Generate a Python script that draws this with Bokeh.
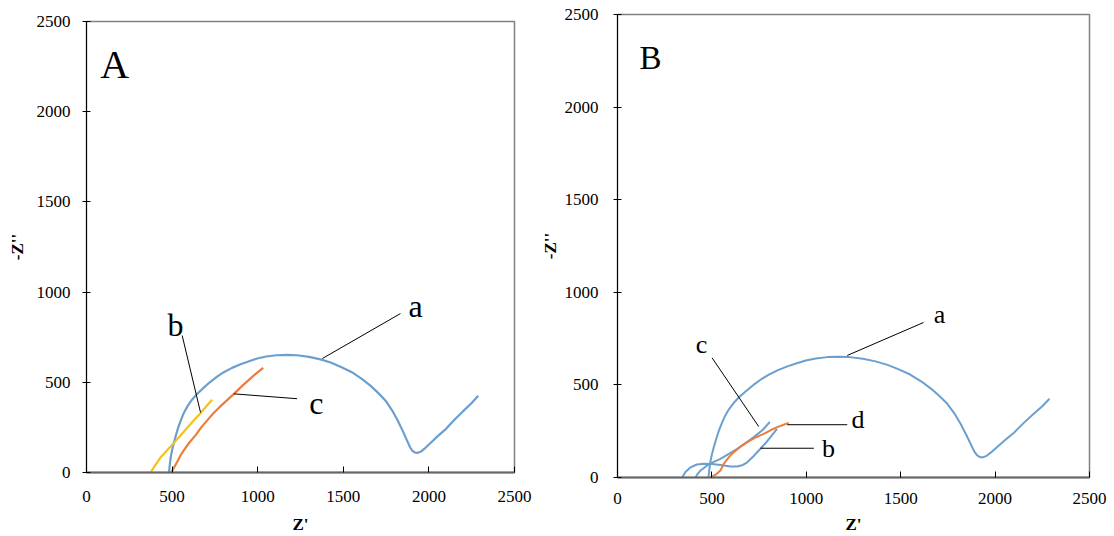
from bokeh.plotting import figure
from bokeh.layouts import row, column
from bokeh.models import Range1d, ColumnDataSource, FixedTicker
from bokeh.core.properties import value
from bokeh.embed import file_html
from bokeh.resources import INLINE

# ---- Nyquist data (Z' vs -Z'') ----
# curve a: bare electrode (shown in both panels)
a_zr = [482, 486, 492, 500, 510, 522, 536, 552, 568, 590, 615, 646, 680, 720,
        765, 802, 850, 900, 950, 997, 1050, 1110, 1170, 1230, 1300, 1367, 1430,
        1490, 1550, 1610, 1660, 1705, 1747, 1785, 1817, 1845, 1870, 1890, 1905,
        1920, 1935, 1955, 1980, 2011, 2050, 2100, 2152, 2200, 2250, 2288]
a_zi = [0, 40, 85, 125, 163, 205, 250, 292, 329, 368, 402, 436, 466, 500,
        533, 556, 580, 600, 617, 632, 643, 650, 652, 650, 641, 627, 608,
        584, 556, 518, 480, 440, 398, 345, 290, 235, 182, 140, 119,
        110, 109, 117, 137, 165, 200, 242, 295, 340, 385, 425]

# panel A
A_b_zr = [374, 400, 430, 470, 510, 550, 590, 630, 666, 700, 734]
A_b_zi = [0, 38, 80, 122, 163, 207, 250, 292, 329, 367, 403]
A_c_zr = [494, 510, 530, 548, 568, 600, 640, 670, 705, 740, 780, 820, 861, 905, 950, 990, 1032]
A_c_zi = [0, 25, 60, 93, 123, 165, 210, 250, 289, 327, 365, 400, 436, 476, 515, 548, 580]

# panel B
B_b_zr = [342, 360, 387, 420, 457, 500, 545, 600, 634, 660, 687, 720, 757, 790, 810, 845]
B_b_zi = [0, 30, 55, 70, 74, 73, 68, 60, 59, 66, 82, 115, 155, 192, 218, 263]
B_c_zr = [413, 425, 440, 475, 510, 545, 590, 634, 680, 722, 770, 807]
B_c_zi = [0, 20, 38, 65, 84, 101, 128, 155, 187, 218, 258, 300]
B_d_zr = [493, 520, 545, 563, 590, 616, 650, 687, 730, 775, 810, 846, 880, 907]
B_d_zi = [0, 15, 38, 74, 110, 137, 165, 191, 215, 236, 255, 272, 285, 295]

ticks = [0, 500, 1000, 1500, 2000, 2500]

# curve labels (centre points) and their leader lines
A_lab = ["a", "b", "c"]
A_lab_x = [1922, 520, 1343]
A_lab_y = [925, 820, 388]
A_lead_x0 = [1378, 559, 861]
A_lead_y0 = [632, 759, 436]
A_lead_x1 = [1834, 666, 1230]
A_lead_y1 = [881, 333, 409]

B_lab = ["a", "c", "d", "b"]
B_lab_x = [1705, 445, 1274, 1118]
B_lab_y = [880, 718, 313, 157]
B_lead_x0 = [1217, 501, 899, 757]
B_lead_y0 = [659, 646, 285, 158]
B_lead_x1 = [1621, 748, 1217, 1040]
B_lead_y1 = [837, 275, 285, 158]

BLUE = "#6a9fcf"
ORANGE = "#ec7d3a"
YELLOW = "#f5c11c"
SERIF = "Liberation Serif"


def make_panel(width, borders, tick_standoff, label_standoff):
    left, right, top, bottom = borders
    p = figure(width=width, height=536, output_backend="svg", toolbar_location=None,
               title=None,
               x_range=Range1d(0, 2500), y_range=Range1d(0, 2500),
               min_border_left=left, min_border_right=right,
               min_border_top=top, min_border_bottom=bottom)
    p.grid.visible = False
    p.outline_line_color = "#808080"
    p.outline_line_width = 1.5
    p.background_fill_color = "white"
    p.border_fill_color = "white"

    p.xaxis.ticker = FixedTicker(ticks=ticks)
    p.yaxis.ticker = FixedTicker(ticks=ticks)
    for ax in (p.xaxis[0], p.yaxis[0]):
        ax.minor_tick_line_color = None
        ax.major_label_text_font = SERIF
        ax.major_label_text_font_size = "17px"
        ax.major_label_text_color = "black"
        ax.axis_label_text_font = SERIF
        ax.axis_label_text_font_size = "17px"
        ax.axis_label_text_font_style = "bold"
        ax.axis_label_text_color = "black"
        ax.major_tick_line_color = "black"
    p.xaxis.axis_label = "Z'"
    p.yaxis.axis_label = "-Z''"
    p.xaxis.axis_line_color = "#666666"
    p.xaxis.axis_line_width = 2
    p.xaxis.major_tick_in = 6
    p.xaxis.major_tick_out = 0
    p.xaxis.major_label_standoff = tick_standoff
    p.xaxis.axis_label_standoff = label_standoff
    p.yaxis.axis_line_color = "black"
    p.yaxis.axis_line_width = 1
    p.yaxis.major_tick_in = 4
    p.yaxis.major_tick_out = 4
    return p


def add_labels(p, texts, xs, ys, x0, y0, x1, y1, size):
    p.segment(x0=x0, y0=y0, x1=x1, y1=y1, line_color="black", line_width=1)
    src = ColumnDataSource(dict(x=xs, y=ys, t=texts))
    p.text(x="x", y="y", text="t", source=src, text_font=value(SERIF),
           text_font_size=value(size), text_align="center",
           text_baseline="middle", text_color="black")


# ---- panel A ----
pA = make_panel(536, (86, 22, 21, 64), 18, 10)
pA.yaxis.major_label_standoff = 12
pA.yaxis.axis_label_standoff = 7
pA.line(a_zr, a_zi, line_color=BLUE, line_width=2.2)
pA.line(A_b_zr, A_b_zi, line_color=YELLOW, line_width=2.2)
pA.line(A_c_zr, A_c_zi, line_color=ORANGE, line_width=2.2)
add_labels(pA, A_lab, A_lab_x, A_lab_y, A_lead_x0, A_lead_y0, A_lead_x1, A_lead_y1, "32px")
pA.text(x=[164], y=[2259], text=["A"], text_font=value(SERIF), text_font_size=value("40px"),
        text_align="center", text_baseline="middle", text_color="black")

# ---- panel B ----
pB = make_panel(578, (81, 25, 14, 59), 15, 8)
pB.yaxis.major_label_standoff = 15
pB.yaxis.axis_label_standoff = 2
pB.line(a_zr, a_zi, line_color=BLUE, line_width=2)
pB.line(B_b_zr, B_b_zi, line_color=BLUE, line_width=2)
pB.line(B_c_zr, B_c_zi, line_color=BLUE, line_width=2)
pB.line(B_d_zr, B_d_zi, line_color=ORANGE, line_width=2)
add_labels(pB, B_lab, B_lab_x, B_lab_y, B_lead_x0, B_lead_y0, B_lead_x1, B_lead_y1, "26px")
pB.text(x=[175], y=[2263], text=["B"], text_font=value(SERIF), text_font_size=value("33px"),
        text_align="center", text_baseline="middle", text_color="black")

# each panel sits in its own column so the two frames keep their own borders
layout = row(column(pA), column(pB))
open("out.html", "w").write(file_html(layout, INLINE))
